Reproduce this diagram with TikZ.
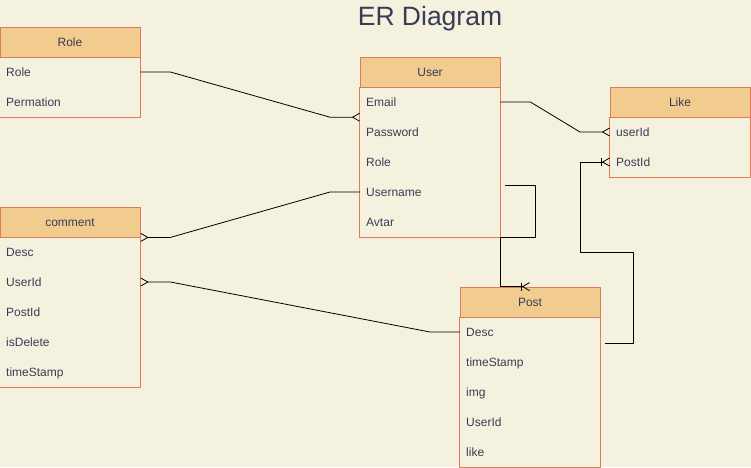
\documentclass[tikz,border=0pt]{standalone}
\usepackage{fontspec}
\setmainfont{Liberation Sans}
\usetikzlibrary{arrows.meta}
\definecolor{paper}{HTML}{F4F1DE}
\definecolor{headfill}{HTML}{F2CC8F}
\definecolor{rim}{HTML}{E07A5F}
\definecolor{ink}{HTML}{393C56}
\tikzset{
  head/.style={draw=rim, fill=headfill, line width=0.8pt, minimum width=140pt,
    minimum height=30pt, text height=8.6pt, text depth=0pt, inner sep=0pt,
    text=ink, font=\fontsize{12}{14}\selectfont},
  field/.style={anchor=west, text width=128pt, inner xsep=6pt, inner ysep=0pt,
    minimum height=30pt, text height=8.6pt, text depth=0pt, align=left,
    text=ink, font=\fontsize{12}{14}\selectfont},
  body/.style={draw=rim, line width=0.8pt},
  link/.style={line width=0.8pt, black},
  many/.style={link, -{Straight Barb[reversed,length=7pt,width=8pt]}},
  onemany/.style={link, -{Bar[width=8pt]Straight Barb[reversed,length=7pt,width=8pt]}},
}
\begin{document}
\begin{tikzpicture}[x=1pt, y=-1pt, line join=round]
  \fill[paper] (0,0) rectangle (751,467);
  \useasboundingbox (0,0) rectangle (751,467);
  \node[anchor=base, text=ink, font=\fontsize{26.5}{30}\selectfont] (title) at (430,25) {ER Diagram};
  % Role
  \node[head] (role) at (70,42) {Role};
  \node[field] (role-role) at (0,72) {Role};
  \node[field] (role-perm) at (0,102) {Permation};
  \draw[body] (role.south west) rectangle (role-perm.south east);
  % User
  \node[head] (user) at (430,72) {User};
  \node[field] (user-email) at (360,102) {Email};
  \node[field] (user-pass) at (360,132) {Password};
  \node[field] (user-role) at (360,162) {Role};
  \node[field] (user-name) at (360,192) {Username};
  \node[field] (user-avtar) at (360,222) {Avtar};
  \draw[body] (user.south west) rectangle (user-avtar.south east);
  % Like
  \node[head] (like) at (680,102) {Like};
  \node[field] (like-user) at (610,132) {userId};
  \node[field] (like-post) at (610,162) {PostId};
  \draw[body] (like.south west) rectangle (like-post.south east);
  % comment
  \node[head] (comment) at (70,222) {comment};
  \node[field] (comment-desc) at (0,252) {Desc};
  \node[field] (comment-user) at (0,282) {UserId};
  \node[field] (comment-post) at (0,312) {PostId};
  \node[field] (comment-del) at (0,342) {isDelete};
  \node[field] (comment-time) at (0,372) {timeStamp};
  \draw[body] (comment.south west) rectangle (comment-time.south east);
  % Post
  \node[head] (post) at (530,302) {Post};
  \node[field] (post-desc) at (460,332) {Desc};
  \node[field] (post-time) at (460,362) {timeStamp};
  \node[field] (post-img) at (460,392) {img};
  \node[field] (post-user) at (460,422) {UserId};
  \node[field] (post-like) at (460,452) {like};
  \draw[body] (post.south west) rectangle (post-like.south east);
  % relations
  \coordinate (user-out) at ([xshift=5pt,yshift=7pt]user-name.east);
  \coordinate (post-out) at ([xshift=5pt,yshift=-11pt]post-desc.east);
  \draw[many] (role-role.east) -- ++(30,0) -- ([xshift=-30pt]user-email.south west) -- (user-email.south west);
  \draw[many] (user-email.east) -- ++(30,0) -- ([xshift=-30pt]like-user.west) -- (like-user.west);
  \draw[many] (user-name.west) -- ++(-30,0) -- ([xshift=30pt]comment.south east) -- (comment.south east);
  \draw[many] (post-desc.west) -- ++(-30,0) -- ([xshift=30pt]comment-user.east) -- (comment-user.east);
  \draw[onemany] (user-out) -- ++(30,0) |- (user-avtar.south east) |- (post.north);
  \draw[onemany] (post-out) -- ++(28,0) -- ++(0,-91) -| ([xshift=-30pt]like-post.west) -- (like-post.west);
\end{tikzpicture}
\end{document}
